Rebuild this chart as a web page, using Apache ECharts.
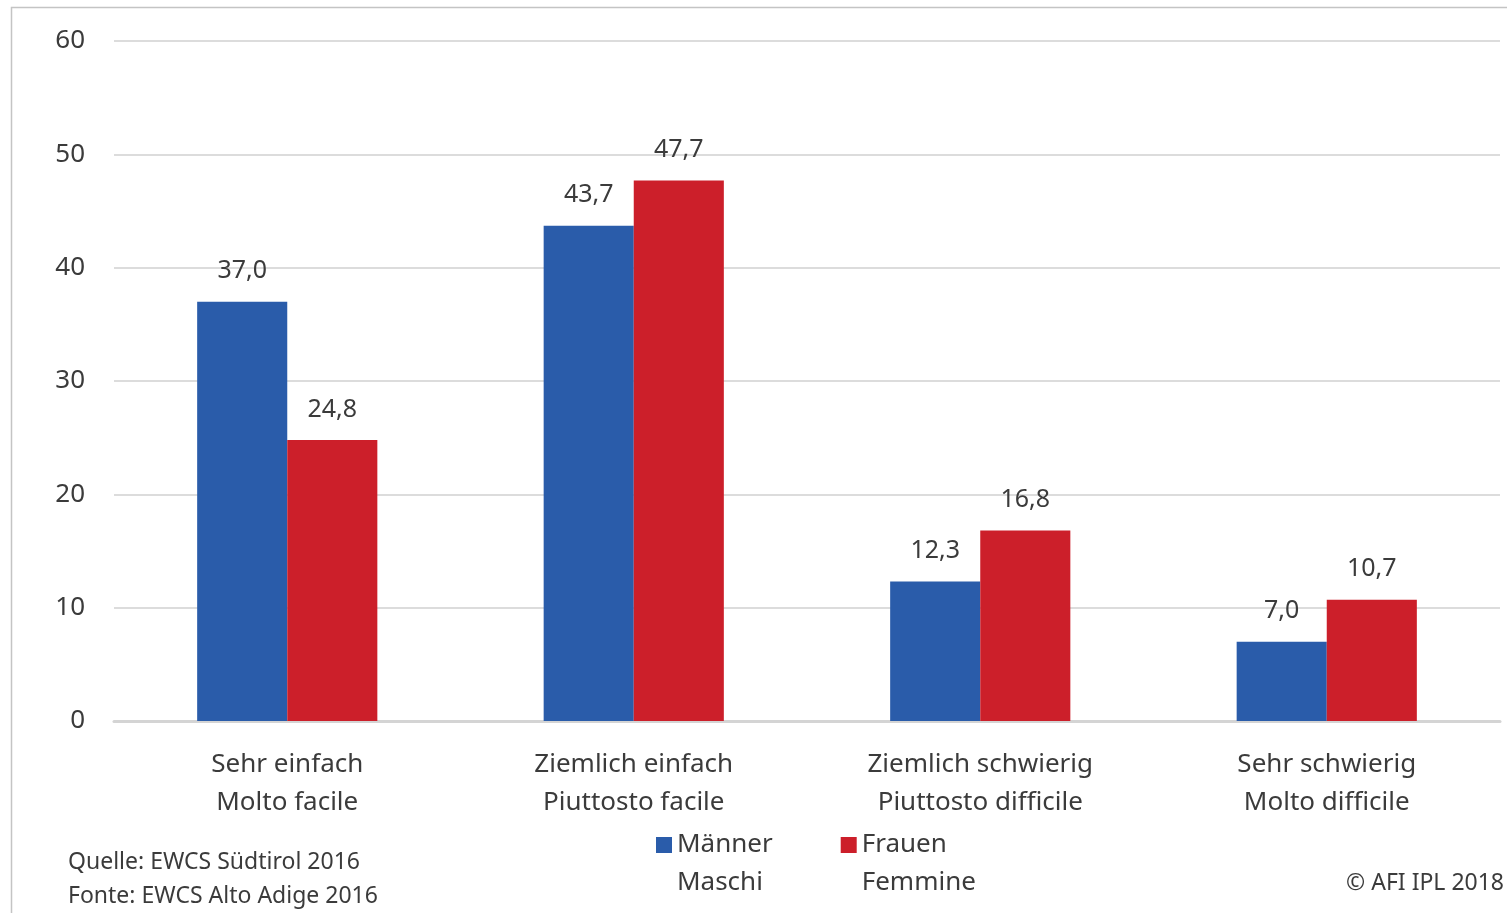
<!DOCTYPE html>
<html>
<head>
<meta charset="utf-8">
<title></title>
<script type="text/javascript" src="https://cdn.jsdelivr.net/npm/echarts@6/dist/echarts.min.js"></script>
<style>
html, body { margin: 0; padding: 0; background: #fff; }
</style>
</head>
<body>

<div id="main" style="width: 1507px;height:913px;"></div>

<script type="text/javascript">

let CATEGORIES = ['Sehr einfach\nMolto facile', 'Ziemlich einfach\nPiuttosto facile',
	'Ziemlich schwierig\nPiuttosto difficile', 'Sehr schwierig\nMolto difficile'];
let MAENNER = [37.0, 43.7, 12.3, 7.0];
let FRAUEN = [24.8, 47.7, 16.8, 10.7];
let SERIES_NAMES = ['Männer\nMaschi', 'Frauen\nFemmine'];
let Y_TICKS = [0, 60, 10];   // min, max, interval

let FONT = '"Noto Sans", sans-serif';
let TEXT = '#3b3b3b';

function comma(p){
	return p.value.toFixed(1).replace('.', ',');
}

function barSeries(name, data, color){
	return {
		name: name,
		type: 'bar',
		data: data,
		barWidth: '26%',
		barGap: '0%',
		itemStyle: { color: color },
		label: {
			show: true,
			position: 'top',
			distance: 18,
			formatter: comma,
			color: TEXT,
			fontFamily: FONT,
			fontSize: 25
		}
	};
}

var myChart = echarts.init(document.getElementById('main'));

var option = {
	animation: false,
	backgroundColor: '#fff',
	textStyle: { fontFamily: FONT },
	grid: { left: 114, right: 7, top: 41, bottom: 192 },
	legend: {
		left: 656,
		top: 788,
		padding: 0,
		itemWidth: 16,
		itemHeight: 16,
		itemGap: 68,
		icon: 'rect',
		data: SERIES_NAMES,
		// blank first line so the square sits next to the first text line
		formatter: (name) => ' \n' + name,
		textStyle: {
			color: TEXT,
			fontFamily: FONT,
			fontSize: 26,
			lineHeight: 38
		}
	},
	xAxis: {
		type: 'category',
		data: CATEGORIES,
		axisTick: { show: false },
		axisLine: { lineStyle: { color: '#d4d4d4', width: 3 } },
		axisLabel: {
			color: TEXT,
			fontFamily: FONT,
			fontSize: 26,
			lineHeight: 38,
			margin: 25
		}
	},
	yAxis: {
		type: 'value',
		min: Y_TICKS[0],
		max: Y_TICKS[1],
		interval: Y_TICKS[2],
		axisLine: { show: false },
		axisTick: { show: false },
		splitLine: { lineStyle: { color: '#dcdcdc', width: 2 } },
		axisLabel: {
			color: TEXT,
			fontFamily: FONT,
			fontSize: 26,
			margin: 29
		}
	},
	graphic: [
		{
			type: 'rect',
			silent: true,
			shape: { x: 11.5, y: 7.5, width: 1700, height: 1200 },
			style: { fill: null, stroke: '#c4c4c4', lineWidth: 1.5 }
		},
		{
			type: 'text',
			left: 68,
			top: 845,
			style: {
				text: 'Quelle: EWCS Südtirol 2016\nFonte: EWCS Alto Adige 2016',
				fill: TEXT,
				font: '23px "Noto Sans", sans-serif',
				lineHeight: 34
			}
		},
		{
			type: 'text',
			right: 3,
			top: 872,
			style: {
				text: '© AFI IPL 2018',
				fill: TEXT,
				font: '23px "Noto Sans", sans-serif'
			}
		}
	],
	series: [
		barSeries(SERIES_NAMES[0], MAENNER, '#2a5caa'),
		barSeries(SERIES_NAMES[1], FRAUEN, '#cc1f2a')
	]
};

myChart.setOption(option);

</script>

</body>
</html>
